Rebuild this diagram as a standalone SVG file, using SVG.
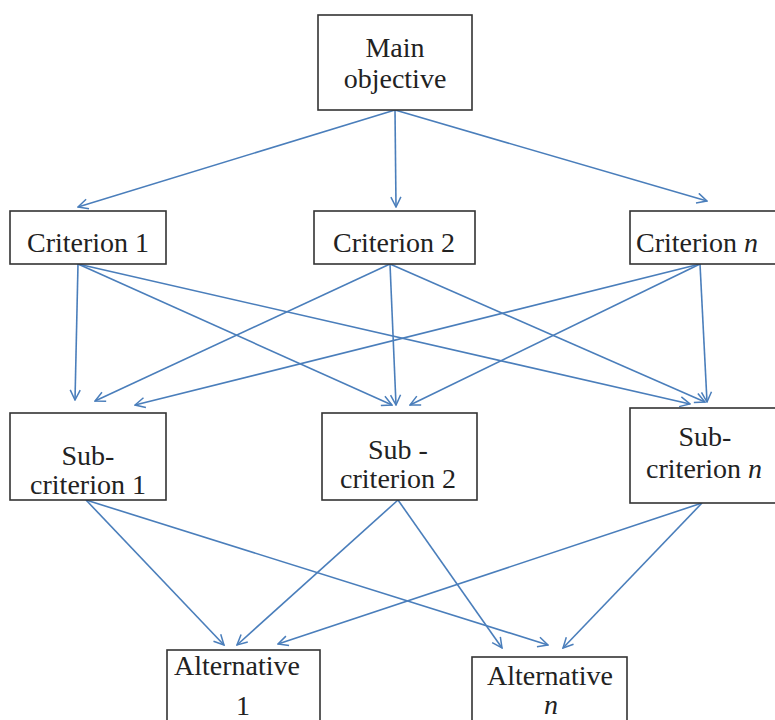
<svg xmlns="http://www.w3.org/2000/svg" width="775" height="720" viewBox="0 0 775 720">
<defs>
<marker id="ah" viewBox="0 0 12 12" refX="11" refY="6" markerWidth="12" markerHeight="12" markerUnits="userSpaceOnUse" orient="auto">
<path d="M1,1 L11,6 L1,11" fill="none" stroke="#4a7ebb" stroke-width="1.5"/>
</marker>
<style>
.box{fill:#fff;stroke:#333;stroke-width:1.6}
.t{font-size:28px;fill:#222;text-anchor:middle}
.i{font-style:italic}
.c line{stroke:#4a7ebb;stroke-width:1.6;marker-end:url(#ah)}
</style>
</defs>
<rect width="775" height="720" fill="#fff"/>
<g class="c" id="connectors">
<line x1="395" y1="110" x2="78" y2="207"/>
<line x1="395" y1="110" x2="396" y2="207"/>
<line x1="395" y1="110" x2="707" y2="201"/>
<line x1="78" y1="264" x2="75" y2="400"/>
<line x1="78" y1="264" x2="392" y2="405"/>
<line x1="78" y1="264" x2="690" y2="404"/>
<line x1="390" y1="264" x2="95" y2="401"/>
<line x1="390" y1="264" x2="396" y2="405"/>
<line x1="390" y1="264" x2="705" y2="402"/>
<line x1="700" y1="264" x2="135" y2="405"/>
<line x1="700" y1="264" x2="410" y2="405"/>
<line x1="700" y1="264" x2="707" y2="402"/>
<line x1="86" y1="500" x2="224" y2="645"/>
<line x1="86" y1="500" x2="548" y2="645"/>
<line x1="398" y1="500" x2="237" y2="645"/>
<line x1="398" y1="500" x2="502" y2="648"/>
<line x1="702" y1="503" x2="278" y2="644"/>
<line x1="702" y1="503" x2="563" y2="648"/>
</g>
<g font-family="'Liberation Serif', 'Times New Roman', serif">
<g id="main"><rect class="box" x="318" y="15" width="154" height="95"/><text class="t" x="395" y="57">Main</text><text class="t" x="395" y="88">objective</text></g>
<g id="crit1"><rect class="box" x="10" y="211" width="156" height="53"/><text class="t" x="88" y="252">Criterion 1</text></g>
<g id="crit2"><rect class="box" x="314" y="211" width="161" height="53"/><text class="t" x="394" y="252">Criterion 2</text></g>
<g id="critn"><rect class="box" x="630" y="211" width="160" height="53"/><text class="t" x="636" y="252" style="text-anchor:start">Criterion <tspan class="i">n</tspan></text></g>
<g id="sub1"><rect class="box" x="10" y="413" width="156" height="87"/><text class="t" x="88" y="465">Sub-</text><text class="t" x="88" y="494">criterion 1</text></g>
<g id="sub2"><rect class="box" x="322" y="413" width="155" height="87"/><text class="t" x="398" y="459">Sub -</text><text class="t" x="398" y="488">criterion 2</text></g>
<g id="subn"><rect class="box" x="630" y="408" width="160" height="95"/><text class="t" x="705" y="446">Sub-</text><text class="t" x="704" y="478">criterion <tspan class="i">n</tspan></text></g>
<g id="alt1"><rect class="box" x="167" y="650" width="153" height="80"/><text class="t" x="237" y="675">Alternative</text><text class="t" x="243" y="715">1</text></g>
<g id="altn"><rect class="box" x="472" y="657" width="155" height="73"/><text class="t" x="550" y="685">Alternative</text><text class="t i" x="551" y="714">n</text></g>
</g>
</svg>
